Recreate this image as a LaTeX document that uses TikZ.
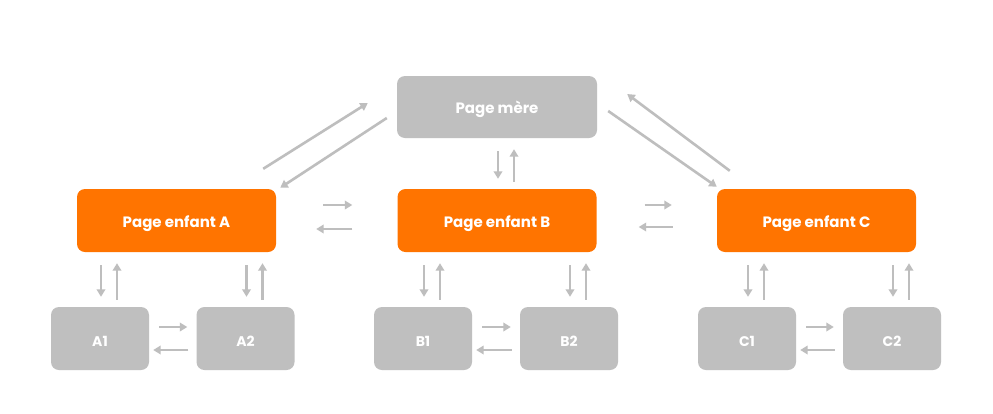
\documentclass[tikz,border=0pt]{standalone}
\usepackage{fontspec}
\setmainfont{Poppins}
\usetikzlibrary{arrows.meta}
\definecolor{orng}{RGB}{255,116,0}
\definecolor{gbox}{RGB}{191,191,191}
\definecolor{garr}{RGB}{190,190,190}
\tikzset{
  box/.style={rounded corners=8pt, inner sep=0pt, text=white, font=\bfseries\fontsize{15}{17}\selectfont},
  bigbox/.style={box, minimum width=199pt, minimum height=63pt, text height=14pt, text depth=1pt},
  smallbox/.style={box, fill=gbox, minimum width=98pt, minimum height=63pt, text height=15pt, text depth=0pt, font=\bfseries\fontsize{14}{16}\selectfont},
  arr/.style={draw=garr, line width=2.6pt, -{Triangle[length=7.5pt,width=8.5pt]}},
}
\newcommand\vpair[2]{%
  \coordinate (#2dn) at ([xshift=1pt]#2.north);
  \coordinate (#2up) at ([xshift=17pt]#2.north);
  \draw[arr, shorten <=13pt, shorten >=10pt] (#2dn |- #1.south) -- (#2dn);
  \draw[arr, shorten <=7pt, shorten >=11pt] (#2up) -- (#2up |- #1.south);
}
\newcommand\hsmall[2]{%
  \draw[arr, shorten <=10pt, shorten >=9pt] ([shift={(0,-11.5)}]#1.east) -- ([shift={(0,-11.5)}]#2.west);
  \draw[arr, shorten <=8pt, shorten >=4pt] ([shift={(0,11.5)}]#2.west) -- ([shift={(0,11.5)}]#1.east);
}
\begin{document}
\begin{tikzpicture}[x=1pt,y=-1pt]
\useasboundingbox (0,0) rectangle (993,413);
\fill[white] (0,0) rectangle (993,413);
% main nodes
\node[bigbox, fill=gbox, minimum width=200pt, minimum height=62pt] (M) at (497,107) {Page mère};
\node[bigbox, fill=orng] (A) at (176.5,220.5) {Page enfant A};
\node[bigbox, fill=orng] (B) at (497,220.5) {Page enfant B};
\node[bigbox, fill=orng] (C) at (816.5,220.5) {Page enfant C};
% children
\node[smallbox] (A1) at (100,338.5) {A1};
\node[smallbox] (A2) at (245.5,338.5) {A2};
\node[smallbox] (B1) at (423,338.5) {B1};
\node[smallbox] (B2) at (569,338.5) {B2};
\node[smallbox] (C1) at (747,338.5) {C1};
\node[smallbox] (C2) at (892,338.5) {C2};
% diagonal connectors
\draw[arr] ([shift={(-13,-20)}]A.north east) -- ([shift={(-29,-4)}]M.west);
\draw[arr] ([shift={(-10,11)}]M.west) -- ([shift={(4,-1)}]A.north east);
\draw[arr] ([shift={(11,4)}]M.east) -- ([shift={(0,-2)}]C.north west);
\draw[arr] ([shift={(13,-18)}]C.north west) -- ([shift={(30,-13)}]M.east);
% vertical pairs
\vpair{M}{B}
\vpair{A}{A1}
\vpair{A}{A2}
\vpair{B}{B1}
\vpair{B}{B2}
\vpair{C}{C1}
\vpair{C}{C2}
% horizontal between big boxes
\draw[arr, shorten <=47pt, shorten >=45pt] ([shift={(0,-15.5)}]A.east) -- ([shift={(0,-15.5)}]B.west);
\draw[arr, shorten <=45pt, shorten >=40pt] ([shift={(0,8.5)}]B.west) -- ([shift={(0,8.5)}]A.east);
\draw[arr, shorten <=48pt, shorten >=45pt] ([shift={(0,-15.5)}]B.east) -- ([shift={(0,-15.5)}]C.west);
\draw[arr, shorten <=44pt, shorten >=42pt] ([shift={(0,6.5)}]C.west) -- ([shift={(0,6.5)}]B.east);
% horizontal between small boxes
\hsmall{A1}{A2}
\hsmall{B1}{B2}
\hsmall{C1}{C2}
\end{tikzpicture}
\end{document}
